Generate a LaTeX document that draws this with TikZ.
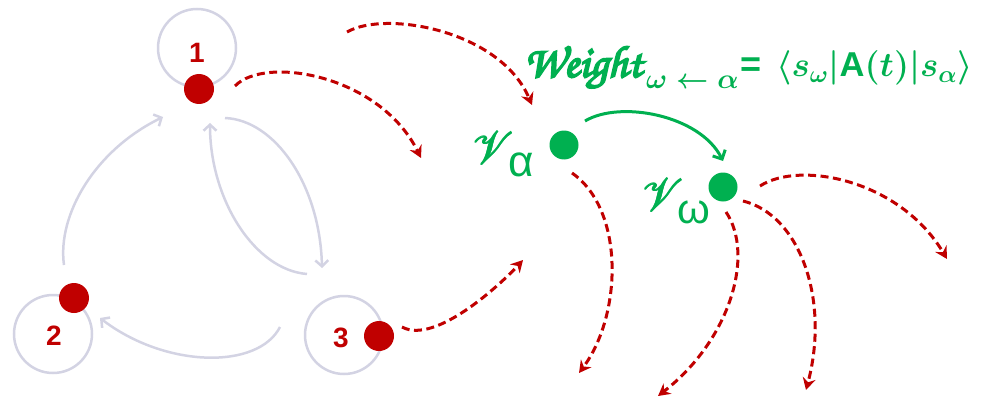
\RequirePackage{fix-cm}
\documentclass[tikz,border=0pt]{standalone}
\usepackage{fontspec}
\usepackage{mathrsfs}
\DeclareFontFamily{U}{rsfs}{\skewchar\font127 }
\DeclareFontShape{U}{rsfs}{m}{n}{<->rsfs10}{}
\setmainfont{Liberation Sans}
\newfontfamily\chorus[FakeBold=4]{texgyrechorus-mediumitalic.otf}
\usetikzlibrary{arrows.meta}
\definecolor{dred}{HTML}{C00000}
\definecolor{dgreen}{HTML}{00B050}
\definecolor{lgrey}{HTML}{D3D3E3}
\newcommand{\fatV}{\rlap{$\mathscr{V}$}\rlap{\hspace{0.8pt}$\mathscr{V}$}\rlap{\raisebox{0.6pt}{\hspace{0.4pt}$\mathscr{V}$}}\hspace{0.8pt}$\mathscr{V}$}
\begin{document}
\begin{tikzpicture}[x=1pt,y=-1pt,
  loopc/.style={circle,draw=lgrey,line width=2.5pt,minimum size=78pt,inner sep=0},
  rdot/.style={circle,fill=dred,minimum size=30pt,inner sep=0},
  gdot/.style={circle,fill=dgreen,minimum size=29pt,inner sep=0},
  num/.style={text=dred,font=\fontsize{28}{28}\selectfont\bfseries,inner sep=0},
  garr/.style={draw=lgrey,line width=2.5pt,-{Straight Barb[length=6pt,width=13pt]}},
  rarr/.style={draw=dred,line width=3pt,dash pattern=on 8pt off 4.5pt,-{Stealth[length=12pt,width=13pt,inset=4pt]}},
  grarr/.style={draw=dgreen,line width=3pt,-{Straight Barb[length=7pt,width=14pt]}},
  gtxt/.style={text=dgreen,inner sep=0}]
\useasboundingbox (0,0) rectangle (984,401);
% loops
\node[loopc] (c1) at (197,48) {};
\node[loopc] (c2) at (53,334) {};
\node[loopc] (c3) at (344,335) {};
\node[num] (l1) at (197,53) {1};
\node[num] (l2) at (54,336) {2};
\node[num] (l3) at (341,338) {3};
% grey connectors
\coordinate (g21s) at (64,265); \coordinate (g21e) at (163,117);
\coordinate (g13s) at (225,118); \coordinate (g13e) at (322,268);
\coordinate (g31s) at (307,274); \coordinate (g31e) at (210,123);
\coordinate (g32s) at (280,327); \coordinate (g32e) at (100,318);
\draw[garr] (g21s) .. controls (57,215) and (95,150) .. (g21e);
\draw[garr] (g13s) .. controls (275,120) and (320,185) .. (g13e);
\draw[garr] (g31s) .. controls (255,270) and (210,200) .. (g31e);
\draw[garr] (g32s) .. controls (258,370) and (165,368) .. (g32e);
% red dots
\node[rdot] (d1) at (199,89) {};
\node[rdot] (d2) at (74,298) {};
\node[rdot] (d3) at (379,336) {};
% green dots
\node[gdot] (ga) at (564,145) {};
\node[gdot] (gw) at (723,187) {};
% labels
\node[gtxt] (la) at (503,154) {\fontsize{46}{46}\selectfont\fatV\hspace{-5pt}\raisebox{-12pt}{\fontsize{44}{44}\selectfont α}};
\node[gtxt] (lw) at (676,201) {\fontsize{46}{46}\selectfont\fatV\hspace{-6pt}\raisebox{-12pt}{\fontsize{42}{42}\selectfont ω}};
% formula
\node[gtxt,anchor=base west,font=\chorus\fontsize{45}{45}\selectfont] (wt) at (524,77) {Weight};
\node[gtxt,anchor=base west,font=\fontsize{28}{28}\selectfont\boldmath] (ws) at (646,89) {$\omega\leftarrow\alpha$};
\node[gtxt,anchor=base west,font=\fontsize{36}{36}\selectfont\bfseries] (weq) at (740,77) {=};
\node[gtxt,anchor=base west,font=\fontsize{34.5}{34.5}\selectfont\boldmath] (wm) at (776,77) {$\langle s_{\omega}|\mbox{\bfseries A}(t)|s_{\alpha}\rangle$};
% red dashed connectors
\coordinate (ra) at (235,86); \coordinate (rae) at (421,158);
\coordinate (rb) at (347,32); \coordinate (rbe) at (532,105);
\coordinate (rc) at (402,327); \coordinate (rce) at (523,260);
\coordinate (rg) at (572,173); \coordinate (rge) at (579,373);
\coordinate (rf) at (726,212); \coordinate (rfe) at (658,396);
\coordinate (re) at (743,201); \coordinate (ree) at (806,390);
\coordinate (rd) at (760,186); \coordinate (rde) at (947,259);
\draw[rarr] (ra) .. controls (265,55) and (380,75) .. (rae);
\draw[rarr] (rb) .. controls (385,10) and (500,30) .. (rbe);
\draw[rarr] (rc) .. controls (435,345) and (500,285) .. (rce);
\draw[rarr] (rg) .. controls (625,210) and (622,315) .. (rge);
\draw[rarr] (rf) .. controls (755,255) and (730,340) .. (rfe);
\draw[rarr] (re) .. controls (800,215) and (830,300) .. (ree);
\draw[rarr] (rd) .. controls (800,160) and (900,180) .. (rde);
% green connector
\coordinate (gas) at (585,121); \coordinate (gwe) at (723,161);
\draw[grarr] (gas) .. controls (620,100) and (700,115) .. (gwe);
\end{tikzpicture}
\end{document}
